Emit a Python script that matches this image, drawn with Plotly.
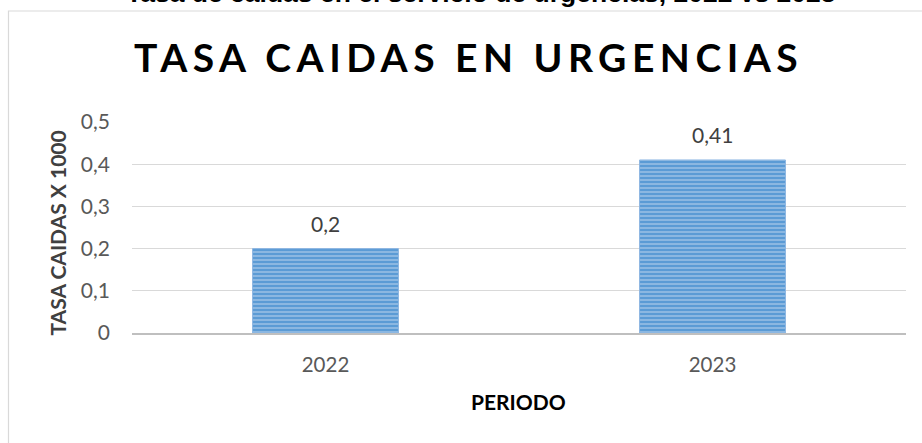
import plotly.graph_objects as go

# ---- data ----
categories = ["2022", "2023"]
values = [0.2, 0.41]
value_labels = ["0,2", "0,41"]
y_tickvals = [0, 0.1, 0.2, 0.3, 0.4, 0.5]
y_ticktext = ["0", "0,1", "0,2", "0,3", "0,4", "0,5"]

top_title = "Tasa de caidas en el servicio de urgencias, 2022 vs 2023"
chart_title = "TASA CAIDAS EN URGENCIAS"
y_title = "TASA CAIDAS X 1000"
x_title = "PERIODO"

# ---- layout geometry (pixels) ----
W, H = 922, 443
L, R, T, B = 132, 16, 122, 110
pw, ph = W - L - R, H - T - B


def px_x(x):
    return (x - L) / pw


def px_y(y):
    return (H - B - y) / ph


FONT = "Lato"

fig = go.Figure(
    go.Bar(
        x=categories,
        y=values,
        marker=dict(
            color="#5b9bd5",
            line=dict(color="#8db6e2", width=1),
            pattern=dict(shape="-", fgcolor="#d3e2f3", bgcolor="#5b9bd5", size=4, solidity=0.4),
        ),
        hoverinfo="skip",
    )
)

annotations = []
for i, (v, t) in enumerate(zip(values, value_labels)):
    annotations.append(dict(
        x=i, y=v, xref="x", yref="y", text=t, showarrow=False,
        yanchor="bottom", yshift=11,
        font=dict(family=FONT, size=21, color="#404040"),
    ))

annotations += [
    dict(x=px_x(481), y=px_y(-7.5), xref="paper", yref="paper", text="<b>" + top_title + "</b>",
         showarrow=False, xanchor="center", yanchor="middle",
         font=dict(family="Liberation Sans", size=26.5, color="#000000")),
    dict(x=px_x(468), y=px_y(57.5), xref="paper", yref="paper",
         text='<span style="letter-spacing:5.5px"><b>' + chart_title + "</b></span>",
         showarrow=False, xanchor="center", yanchor="middle",
         font=dict(family=FONT, size=39, color="#000000")),
    dict(x=px_x(57), y=px_y(233.5), xref="paper", yref="paper", text="<b>" + y_title + "</b>",
         showarrow=False, textangle=-90, xanchor="center", yanchor="middle",
         font=dict(family=FONT, size=21, color="#404040")),
    dict(x=px_x(518.5), y=px_y(401), xref="paper", yref="paper", text="<b>" + x_title + "</b>",
         showarrow=False, xanchor="center", yanchor="middle",
         font=dict(family=FONT, size=21, color="#000000")),
]

fig.update_layout(
    width=W, height=H,
    margin=dict(l=L, r=R, t=T, b=B, pad=0),
    paper_bgcolor="white", plot_bgcolor="white",
    showlegend=False,
    bargap=0.623,
    annotations=annotations,
    shapes=[dict(type="rect", xref="paper", yref="paper",
                 x0=px_x(8.5), x1=px_x(960), y0=px_y(480), y1=px_y(11),
                 line=dict(color="#d9d9d9", width=1.2), fillcolor="rgba(0,0,0,0)", layer="below")],
)

fig.update_xaxes(
    type="category",
    range=[-0.5, 1.5], showgrid=False, zeroline=False,
    showline=True, linecolor="#bfbfbf", linewidth=2,
    ticks="", ticklabelstandoff=12,
    tickfont=dict(family=FONT, size=20.5, color="#595959"),
)
fig.update_yaxes(
    range=[0, 0.5], tickvals=y_tickvals, ticktext=y_ticktext,
    showgrid=True, gridcolor="#d9d9d9", gridwidth=1, zeroline=False,
    showline=False, ticks="", ticklabelstandoff=21,
    tickfont=dict(family=FONT, size=21, color="#595959"),
)

fig.write_html(
    "out.html",
    config={"displayModeBar": False},
    post_script="document.body.style.margin='0';document.body.style.overflow='hidden';",
)
